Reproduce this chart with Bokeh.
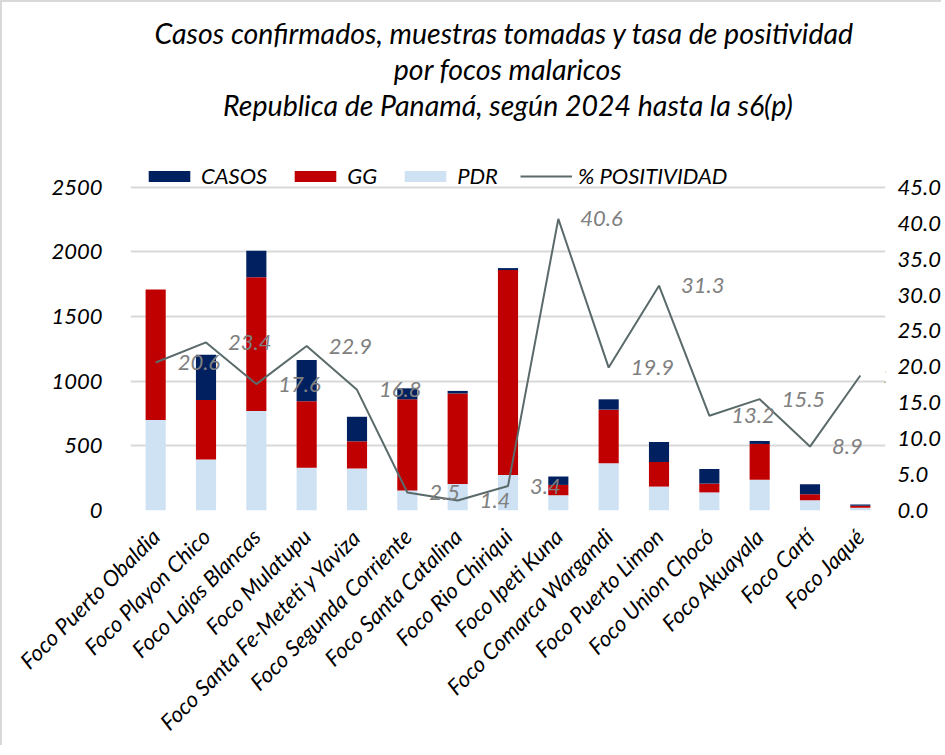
from bokeh.plotting import figure
from bokeh.models import (ColumnDataSource, FactorRange, Range1d, LinearAxis, FixedTicker,
                          Legend, LegendItem, Title, NumeralTickFormatter, LabelSet)
from bokeh.core.properties import value
from bokeh.embed import file_html
from bokeh.resources import INLINE

focos = ["Foco Puerto Obaldia", "Foco Playon Chico", "Foco Lajas Blancas", "Foco Mulatupu",
         "Foco Santa Fe-Meteti y Yaviza", "Foco Segunda Corriente", "Foco Santa Catalina",
         "Foco Rio Chiriqui", "Foco Ipeti Kuna", "Foco Comarca Wargandi", "Foco Puerto Limon",
         "Foco Union Chocó", "Foco Akuayala", "Foco Cartí", "Foco Jaqué"]
pdr = [700, 395, 770, 330, 325, 155, 205, 275, 118, 365, 185, 140, 238, 80, 22]
gg = [1010, 460, 1035, 515, 210, 705, 700, 1585, 80, 415, 190, 68, 277, 46, 14]
casos = [0, 350, 205, 320, 190, 85, 20, 15, 65, 80, 155, 113, 23, 77, 10]
positividad = [20.6, 23.4, 17.6, 22.9, 16.8, 2.5, 1.4, 3.4, 40.6, 19.9, 31.3, 13.2, 15.5, 8.9, 18.8]
left_ticks = [0, 500, 1000, 1500, 2000, 2500]
right_ticks = [0, 5, 10, 15, 20, 25, 30, 35, 40, 45]

FONT = "Lato"
NAVY, RED, LIGHT = "#002060", "#C00000", "#CFE2F3"
LINE = "#5A6A6A"

src = ColumnDataSource(dict(foco=focos, PDR=pdr, GG=gg, CASOS=casos,
                            pct=positividad, lbl=["%.1f" % v for v in positividad]))

top_left = 2500 + 37 / 0.13
p = figure(width=941, height=745, x_range=FactorRange(*focos, range_padding=0),
           y_range=Range1d(0, top_left), output_backend="svg", toolbar_location=None,
           title=None, min_border_left=128, min_border_right=50, min_border_top=148,
           min_border_bottom=235)
p.extra_y_ranges = {"pct": Range1d(0, 45 * top_left / 2500)}
p.outline_line_color = None
p.xgrid.grid_line_color = None
p.ygrid.ticker = FixedTicker(ticks=left_ticks)
p.ygrid.grid_line_color = "#D9D9D9"
p.ygrid.grid_line_width = 2

r_bars = p.vbar_stack(["PDR", "GG", "CASOS"], x="foco", width=0.4, source=src,
                      color=[LIGHT, RED, NAVY], line_color=None)
r_line = p.line(x="foco", y="pct", source=src, y_range_name="pct", line_color=LINE, line_width=2)
labels = LabelSet(x="foco", y="pct", text="lbl", source=src, y_range_name="pct", x_offset=22,
                  text_align="left", text_baseline="middle", text_color="#808080",
                  text_font=value(FONT), text_font_style="italic", text_font_size="22px")
p.add_layout(labels)

ax = p.yaxis[0]
ax.ticker = FixedTicker(ticks=left_ticks)
right = LinearAxis(y_range_name="pct", ticker=FixedTicker(ticks=right_ticks),
                   formatter=NumeralTickFormatter(format="0.0"))
p.add_layout(right, "right")
for a in [ax, right]:
    a.axis_line_color = None
    a.major_tick_line_color = None
    a.minor_tick_line_color = None
    a.major_label_text_font = FONT
    a.major_label_text_font_style = "italic"
    a.major_label_text_font_size = "22px"
    a.major_label_text_color = "#000000"
ax.major_label_standoff = 22
right.major_label_standoff = 6

xa = p.xaxis[0]
xa.axis_line_color = None
xa.major_tick_line_color = None
xa.major_label_orientation = 0.785398
xa.major_label_text_font = FONT
xa.major_label_text_font_style = "italic"
xa.major_label_text_font_size = "22px"
xa.major_label_text_color = "#000000"
xa.major_label_standoff = 16

legend = Legend(items=[LegendItem(label="CASOS", renderers=[r_bars[2]]),
                       LegendItem(label="GG", renderers=[r_bars[1]]),
                       LegendItem(label="PDR", renderers=[r_bars[0]]),
                       LegendItem(label="% POSITIVIDAD", renderers=[r_line])],
                orientation="horizontal", location=(13, 321), glyph_width=52, glyph_height=14,
                label_standoff=6, spacing=22, padding=0, margin=0,
                label_text_font=FONT, label_text_font_style="italic", label_text_font_size="22px",
                label_text_color="#000000",
                background_fill_alpha=0, border_line_color=None)
p.add_layout(legend)

title_lines = ["Casos confirmados, muestras tomadas y  tasa de positividad",
               "por focos malaricos",
               "Republica de Panamá, según 2024 hasta la s6(p)"]
# spacer between title block and legend
p.add_layout(Title(text=" ", text_font_size="24px", standoff=0), "above")
for t in reversed(title_lines):
    p.add_layout(Title(text=t, align="center", text_font=FONT, text_font_style="italic",
                       text_font_size="28.5px", text_color="#000000", offset=-10,
                       standoff=0), "above")

p.styles = {"border-left": "2px solid #D9D9D9", "border-top": "2px solid #D9D9D9"}

open("out.html", "w").write(file_html(p, INLINE))
